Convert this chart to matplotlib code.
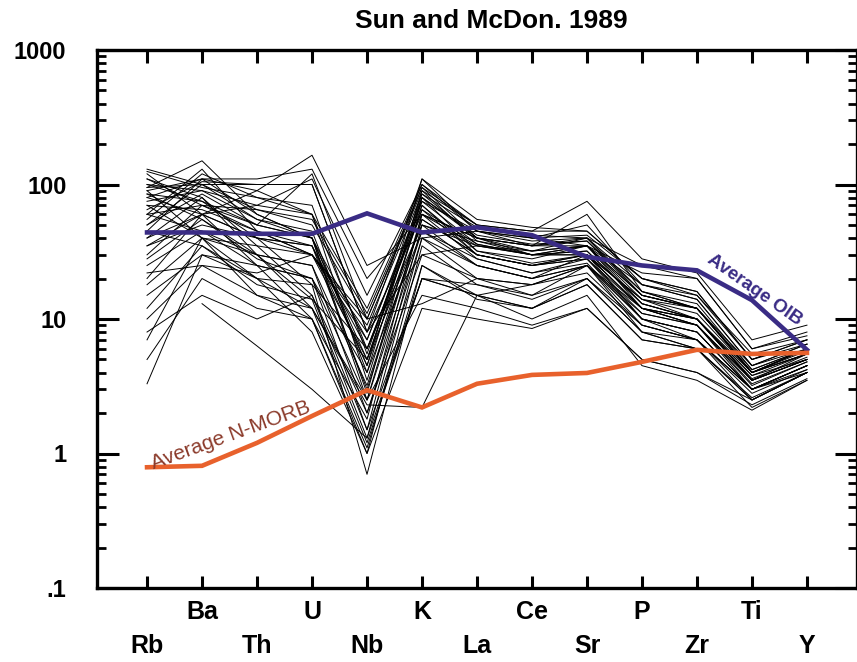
import numpy as np
import matplotlib.pyplot as plt
from matplotlib.ticker import LogLocator, FixedLocator, FixedFormatter, NullFormatter

plt.rcParams['font.family'] = ['Liberation Sans', 'DejaVu Sans']

# primitive-mantle normalised spider diagram (Sun & McDonough 1989)
elements = ['Rb', 'Ba', 'Th', 'U', 'Nb', 'K', 'La', 'Ce', 'Sr', 'P', 'Zr', 'Ti', 'Y']

oib = [44, 44, 43, 43, 61, 44, 48, 42, 29, 25, 23, 13.8, 5.9]
n_morb = [0.79, 0.81, 1.2, 1.9, 2.96, 2.2, 3.3, 3.84, 3.97, 4.8, 5.9, 5.5, 5.6]

nan = np.nan
samples = [
    [120, 60, 40, 30, 5.0, 80, 40, 35, 40, 15, 12, 4.0, 6.0],
    [95, 150, 60, 40, 2.5, 60, 35, 30, 35, 14, 10, 3.5, 5.5],
    [130, 100, 100, 100, 8.0, 110, 55, 48, 45, 20, 15, 5.0, 7.0],
    [80, 110, 90, 165, 25, 40, 45, 40, 50, 18, 14, 4.5, 6.5],
    [60, 70, 50, 120, 10, 90, 50, 40, 35, 22, 20, 6.0, 7.5],
    [100, 90, 70, 60, 3.5, 70, 30, 25, 30, 12, 9, 3.0, 4.5],
    [3.3, 30, 25, 20, 1.5, 50, 25, 20, 25, 10, 8, 3.0, 4.0],
    [7, 40, 30, 25, 2.0, 30, 20, 18, 22, 9, 7, 2.5, 4.0],
    [10, 25, 15, 12, 1.2, 20, 15, 12, 20, 8, 6, 2.2, 3.5],
    [20, 60, 40, 35, 6.0, 65, 30, 25, 30, 12, 10, 3.5, 5.0],
    [40, 80, 30, 12, 2.5, 45, 28, 22, 28, 10, 8, 3.0, 4.5],
    [70, 65, 45, 30, 9.0, 85, 40, 30, 30, 14, 11, 4.0, 5.5],
    [90, 40, 20, 8, 1.0, 35, 18, 15, 25, 8, 6, 2.5, 4.0],
    [50, 100, 55, 40, 7.0, 75, 45, 38, 40, 16, 12, 4.0, 5.5],
    [110, 80, 35, 15, 2.0, 40, 25, 20, 30, 10, 7, 3.0, 4.5],
    [30, 70, 65, 55, 11, 95, 50, 45, 45, 20, 16, 5.0, 6.5],
    [15, 30, 20, 18, 0.7, 25, 15, 10, 15, 4.5, 3.5, 2.1, 3.5],
    [65, 105, 100, 100, 8.0, 60, 40, 32, 35, 15, 12, 4.2, 6.0],
    [25, 45, 25, 20, 2.5, 15, 12, 9, 12, 5, 4, 2.5, 4.0],
    [85, 55, 30, 14, 5.0, 50, 35, 30, 35, 13, 10, 3.8, 5.0],
    [45, 35, 20, 12, 2.3, 2.2, 15, 18, 25, 9, 7, 3.0, 4.5],
    [55, 120, 80, 60, 12, 100, 45, 35, 35, 18, 14, 4.5, 6.0],
    [75, 90, 55, 45, 4.0, 90, 38, 30, 32, 13, 10, 3.5, 5.0],
    [35, 50, 40, 35, 3.0, 55, 30, 25, 28, 11, 9, 3.2, 4.8],
    [100, 75, 40, 18, 6.0, 70, 32, 28, 35, 12, 10, 3.6, 5.2],
    [5, 20, 12, 10, 1.0, 12, 10, 8.5, 12, 5, 4, 2.3, 3.6],
    [60, 130, 45, 30, 7.0, 80, 42, 36, 38, 16, 13, 4.2, 6.0],
    [18, 40, 35, 30, 8.0, 30, 35, 32, 40, 25, 20, 6.0, 8.0],
    [40, 60, 70, 110, 15, 100, 50, 45, 75, 28, 22, 7.0, 9.0],
    [90, 110, 60, 40, 4.5, 110, 45, 40, 42, 20, 16, 5.0, 7.0],
    [12, 35, 18, 14, 1.3, 40, 20, 15, 20, 9, 7, 3.0, 4.2],
    [80, 60, 25, 10, 1.8, 60, 28, 22, 26, 10, 8, 3.0, 4.5],
    [125, 95, 80, 70, 5.5, 85, 48, 42, 40, 18, 15, 5.5, 7.0],
    [28, 55, 28, 20, 4.0, 45, 25, 20, 25, 11, 9, 3.5, 5.0],
    [70, 40, 15, 10, 1.1, 25, 14, 12, 18, 7, 6, 2.6, 4.0],
    [50, 85, 50, 40, 5.0, 75, 36, 30, 30, 14, 12, 4.5, 6.5],
    [22, 25, 22, 30, 10, 13, 20, 18, 25, 12, 10, 4.0, 5.5],
    [95, 100, 65, 50, 10, 95, 40, 35, 38, 15, 12, 4.0, 5.8],
    [8, 15, 10, 15, 1.5, 20, 18, 14, 20, 8, 7, 2.8, 4.2],
    [60, 45, 30, 25, 3.2, 55, 30, 25, 28, 12, 9, 3.3, 4.8],
    [110, 70, 45, 35, 4.5, 65, 36, 30, 32, 13, 10, 3.8, 5.5],
    [nan, 13, 6.3, 3.0, 1.3, 20, 15, 12, 18, 7, 6, 2.5, 4.0],
    [45, 110, 110, 130, 20, 60, 40, 35, 60, 16, 12, 4.0, 6.0],
    [35, 60, 90, 60, 6, 50, 38, 32, 35, 15, 12, 4.0, 6.0],
    [85, 75, 50, 40, 2.8, 80, 32, 26, 30, 12, 9, 3.5, 5.0],
]

x = np.arange(len(elements))

fig = plt.figure(figsize=(8.57, 6.62), dpi=100)
ax = fig.add_axes([97 / 857, 74 / 662, 760 / 857, 538 / 662])

for s in samples:
    ax.plot(x, s, color='black', lw=0.7, zorder=2)

ax.plot(x, oib, color='#3a2c85', lw=3.3, zorder=3, solid_joinstyle='miter')
ax.plot(x, n_morb, color='#e8612c', lw=3.3, zorder=3, solid_joinstyle='miter')

ax.text(11.05, 16.5, 'Average OIB', rotation=-35, ha='center', va='center',
        fontsize=13.5, fontweight='bold', color='#3a2c85', zorder=1)
ax.text(1.52, 1.36, 'Average N-MORB', rotation=20, ha='center', va='center',
        fontsize=15, color='#8b3a2a', zorder=4)

ax.set_yscale('log')
ax.set_ylim(0.1, 1000)
ax.set_xlim(-0.91, 12.91)

ax.yaxis.set_major_locator(FixedLocator([0.1, 1, 10, 100, 1000]))
ax.yaxis.set_major_formatter(FixedFormatter(['.1', '1', '10', '100', '1000']))
ax.yaxis.set_minor_locator(LogLocator(base=10, subs=range(2, 10)))
ax.yaxis.set_minor_formatter(NullFormatter())

ax.set_xticks(x)
ax.set_xticklabels([])
for i, el in enumerate(elements):
    yoff = -0.0446 if i % 2 else -0.1078
    ax.text(i, yoff, el, transform=ax.get_xaxis_transform(), ha='center',
            va='center', fontsize=18, fontweight='bold', clip_on=False)

for side in ax.spines.values():
    side.set_linewidth(2.4)

ax.tick_params(axis='x', which='both', direction='in', top=True, bottom=True,
               length=9, width=2.2)
ax.tick_params(axis='y', which='major', direction='in', left=True, right=True,
               length=16, width=2.2, pad=22, labelsize=17)
ax.tick_params(axis='y', which='minor', direction='in', left=True, right=True,
               length=6.5, width=2.0)
for lab in ax.get_yticklabels():
    lab.set_fontweight('bold')

fig.text(491 / 857, 1 - 21 / 662, 'Sun and McDon. 1989', ha='center', va='center',
         fontsize=19, fontweight='bold')

fig.savefig('out.png', dpi=100)
